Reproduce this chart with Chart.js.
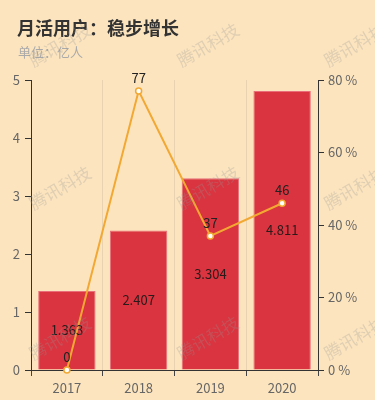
<!DOCTYPE html>
<html>
<head>
<meta charset="utf-8">
<script src="https://cdn.jsdelivr.net/npm/chart.js@4.4.0/dist/chart.umd.min.js"></script>
<style>
  html, body { margin: 0; padding: 0; background: #fce4be; }
  #wrap { position: relative; width: 375px; height: 400px; }
</style>
</head>
<body>
<div id="wrap"><canvas id="chart" width="375" height="400"></canvas></div>
<script>
// data
const years = ['2017', '2018', '2019', '2020']
const users = [1.363, 2.407, 3.304, 4.811]   // 亿人
const growth = [0, 77, 37, 46]               // %

const titleText = '月活用户：稳步增长'
const subText = '单位：亿人'
const markText = '腾讯科技'

const FONT = '"Noto Sans CJK SC", "Noto Sans", sans-serif'

// background + header + watermark + value labels
const decor = {
  id: 'decor',
  beforeDraw: function (chart) {
    const ctx = chart.ctx
    ctx.save()
    ctx.fillStyle = '#fce4be'
    ctx.fillRect(0, 0, chart.width, chart.height)
    ctx.textBaseline = 'middle'
    ctx.textAlign = 'left'
    ctx.fillStyle = '#333'
    ctx.font = 'bold 18px ' + FONT
    ctx.fillText(titleText, 17, 28)
    ctx.fillStyle = '#aaa'
    ctx.font = '13px ' + FONT
    ctx.fillText(subText, 18, 52)
    ctx.restore()
  },
  afterDatasetsDraw: function (chart) {
    const ctx = chart.ctx
    ctx.save()
    ctx.font = '13px ' + FONT
    ctx.textAlign = 'center'
    ctx.textBaseline = 'middle'
    ctx.fillStyle = '#2a1a1a'
    chart.getDatasetMeta(1).data.forEach(function (bar, i) {
      const mid = (bar.y + bar.base) / 2
      ctx.fillText(String(users[i]), bar.x, mid)
    })
    ctx.fillStyle = '#222'
    chart.getDatasetMeta(0).data.forEach(function (pt, i) {
      ctx.fillText(String(growth[i]), pt.x, pt.y - 13)
    })
    ctx.restore()
  },
  afterDraw: function (chart) {
    const ctx = chart.ctx
    ctx.save()
    ctx.font = '17px ' + FONT
    ctx.fillStyle = 'rgba(150,150,150,0.28)'
    ctx.textAlign = 'center'
    ctx.textBaseline = 'middle'
    const xs = [60, 208, 355]
    const ys = [45, 188, 338]
    ys.forEach(function (y) {
      xs.forEach(function (x) {
        ctx.save()
        ctx.translate(x, y)
        ctx.rotate(-30 * Math.PI / 180)
        ctx.fillText(markText, 0, 0)
        ctx.restore()
      })
    })
    ctx.restore()
  }
}

const el = document.getElementById('chart').getContext('2d')
const chart = new Chart(el, {
  data: {
    labels: years,
    datasets: [
      {
        type: 'line',
        label: '增长率',
        data: growth,
        yAxisID: 'y1',
        order: 0,
        borderColor: '#f2a832',
        borderWidth: 2,
        tension: 0,
        pointRadius: 3,
        pointBackgroundColor: '#fff',
        pointBorderColor: '#f2a832',
        pointBorderWidth: 1.5,
        clip: false
      },
      {
        type: 'bar',
        label: '月活用户',
        data: users,
        yAxisID: 'y',
        order: 1,
        backgroundColor: '#d9343f',
        borderColor: '#e9707a',
        borderWidth: { top: 1, left: 1, right: 1, bottom: 0 },
        categoryPercentage: 0.8,
        barPercentage: 1
      }
    ]
  },
  options: {
    responsive: false,
    animation: false,
    layout: { padding: { top: 80, left: 0, right: 0, bottom: 0 } },
    plugins: {
      legend: { display: false },
      tooltip: { enabled: false }
    },
    scales: {
      x: {
        offset: true,
        grid: {
          offset: true,
          color: 'rgba(0,0,0,0.08)',
          borderDash: [3, 3],
          tickColor: '#444',
          tickLength: 6,
          tickBorderDash: []
        },
        border: { color: '#333', dash: [] },
        ticks: { color: '#666', font: { size: 13, family: FONT }, padding: 4 },
        afterFit: function (s) { s.height = 30 }
      },
      y: {
        position: 'left',
        min: 0,
        max: 5,
        ticks: { stepSize: 1, color: '#666', font: { size: 13, family: FONT }, padding: 5 },
        grid: { drawOnChartArea: false, tickColor: '#333', tickLength: 6 },
        border: { color: '#333' },
        afterFit: function (s) { s.width = 31 }
      },
      y1: {
        position: 'right',
        min: 0,
        max: 80,
        ticks: {
          stepSize: 20,
          color: '#666',
          font: { size: 13, family: FONT },
          padding: 4,
          callback: function (v) { return v + ' %' }
        },
        grid: { drawOnChartArea: false, tickColor: '#333', tickLength: 6 },
        border: { color: '#333' },
        afterFit: function (s) { s.width = 57 }
      }
    }
  },
  plugins: [decor]
})
</script>
</body>
</html>
